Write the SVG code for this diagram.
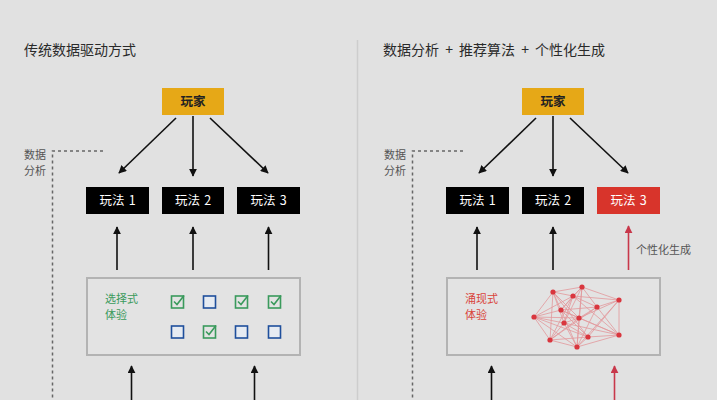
<svg xmlns="http://www.w3.org/2000/svg" width="717" height="400" viewBox="0 0 717 400">
<defs>
<style>
.t{font-family:"Noto Sans CJK SC","Noto Sans",sans-serif}
.title{font-size:14px;fill:#2a2a2a}
.side{font-size:11px;fill:#555}
.nb{fill:#000}
.nt{font-size:12.5px;fill:#fff;text-anchor:middle;word-spacing:1.5px}
.ln{stroke:#111;stroke-width:1.6;fill:none}
.rl{stroke:#c8374a;stroke-width:1.6;fill:none}
.dot{stroke:#666;stroke-width:1.5;stroke-dasharray:3 3;fill:none}
.panel{fill:#e3e3e3;stroke:#b3b3b3;stroke-width:2}
.cg{fill:none;stroke:#3a9a5c;stroke-width:1.6}
.cb{fill:#e6ebf2;stroke:#1f4f9c;stroke-width:1.6}
.edge{stroke:#e27f84;stroke-width:0.8;opacity:0.75}
.nd{fill:#d9363e}
</style>
<marker id="ah" viewBox="0 0 10 10" refX="9" refY="5" markerWidth="5" markerHeight="5" orient="auto"><path d="M0,0 L10,5 L0,10 z" fill="#111"/></marker>
<marker id="ar" viewBox="0 0 10 10" refX="9" refY="5" markerWidth="5" markerHeight="5" orient="auto"><path d="M0,0 L10,5 L0,10 z" fill="#c8374a"/></marker>
<g id="chk"><rect x="-6" y="-6" width="12" height="12" class="cg"/><polyline points="-3.5,-0.5 -0.5,2.5 6.5,-6.5" class="cg"/></g>
<rect id="unc" x="-6" y="-6" width="12" height="12" class="cb"/>
</defs>
<rect width="717" height="400" fill="#e1e1e1"/>
<line x1="357.5" y1="40" x2="357.5" y2="400" stroke="#cdcdcd" stroke-width="1.5"/>

<g id="titles">
<text class="t title" x="24" y="55">传统数据驱动方式</text>
<text class="t title" x="383" y="55" word-spacing="3">数据分析 + 推荐算法 + 个性化生成</text>
</g>

<g id="connectors">
<line class="ln" x1="176" y1="118" x2="119" y2="173" marker-end="url(#ah)"/>
<line class="ln" x1="193" y1="116" x2="193" y2="176" marker-end="url(#ah)"/>
<line class="ln" x1="210" y1="118" x2="268" y2="173" marker-end="url(#ah)"/>
<line class="ln" x1="117" y1="270" x2="117" y2="227" marker-end="url(#ah)"/>
<line class="ln" x1="193" y1="270" x2="193" y2="227" marker-end="url(#ah)"/>
<line class="ln" x1="268.5" y1="270" x2="268.5" y2="227" marker-end="url(#ah)"/>
<line class="ln" x1="131.5" y1="400" x2="131.5" y2="366" marker-end="url(#ah)"/>
<line class="ln" x1="254.5" y1="400" x2="254.5" y2="366" marker-end="url(#ah)"/>
<polyline class="dot" points="103,151 52.5,151 52.5,400"/>

<line class="ln" x1="536" y1="118" x2="479" y2="173" marker-end="url(#ah)"/>
<line class="ln" x1="553" y1="116" x2="553" y2="176" marker-end="url(#ah)"/>
<line class="ln" x1="570" y1="118" x2="628" y2="173" marker-end="url(#ah)"/>
<line class="ln" x1="477" y1="270" x2="477" y2="227" marker-end="url(#ah)"/>
<line class="ln" x1="553" y1="270" x2="553" y2="227" marker-end="url(#ah)"/>
<line class="rl" x1="628.5" y1="270" x2="628.5" y2="226" marker-end="url(#ar)"/>
<line class="ln" x1="491.5" y1="400" x2="491.5" y2="366" marker-end="url(#ah)"/>
<line class="rl" x1="614.5" y1="400" x2="614.5" y2="366" marker-end="url(#ar)"/>
<polyline class="dot" points="463,151 412.5,151 412.5,400"/>
</g>

<g id="side-labels">
<text class="t side" x="24" y="159">数据</text>
<text class="t side" x="24" y="175">分析</text>
<text class="t side" x="384" y="159">数据</text>
<text class="t side" x="384" y="175">分析</text>
<text class="t side" x="636" y="254" fill="#444">个性化生成</text>
</g>

<g id="player-left"><rect x="162" y="88" width="62" height="27" fill="#e6a817"/><text class="t" x="193" y="106" font-size="12.5" font-weight="600" fill="#222" text-anchor="middle">玩家</text></g>
<g id="player-right"><rect x="522" y="88" width="62" height="27" fill="#e6a817"/><text class="t" x="553" y="106" font-size="12.5" font-weight="600" fill="#222" text-anchor="middle">玩家</text></g>

<g id="play1-left"><rect class="nb" x="86" y="187" width="63" height="27"/><text class="t nt" x="117.5" y="205">玩法 1</text></g>
<g id="play2-left"><rect class="nb" x="162" y="187" width="62" height="27"/><text class="t nt" x="193" y="205">玩法 2</text></g>
<g id="play3-left"><rect class="nb" x="237" y="187" width="63" height="27"/><text class="t nt" x="268.5" y="205">玩法 3</text></g>
<g id="play1-right"><rect class="nb" x="446" y="187" width="63" height="27"/><text class="t nt" x="477.5" y="205">玩法 1</text></g>
<g id="play2-right"><rect class="nb" x="522" y="187" width="62" height="27"/><text class="t nt" x="553" y="205">玩法 2</text></g>
<g id="play3-right"><rect x="597" y="187" width="63" height="27" fill="#d8342b"/><text class="t nt" x="628.5" y="205">玩法 3</text></g>

<g id="choice-panel">
<rect class="panel" x="87" y="278" width="213" height="77"/>
<text class="t" x="105" y="303" font-size="11" fill="#3a9a5c">选择式</text>
<text class="t" x="105" y="319" font-size="11" fill="#3a9a5c">体验</text>
<use href="#chk" x="177.5" y="302"/>
<use href="#unc" x="209.5" y="302"/>
<use href="#chk" x="241.5" y="302"/>
<use href="#chk" x="274.5" y="302"/>
<use href="#unc" x="177.5" y="332"/>
<use href="#chk" x="209.5" y="332"/>
<use href="#unc" x="241.5" y="332"/>
<use href="#unc" x="274.5" y="332"/>
</g>

<g id="emergent-panel">
<rect class="panel" x="447" y="278" width="213" height="77"/>
<text class="t" x="465" y="303" font-size="11" fill="#d9443b">涌现式</text>
<text class="t" x="465" y="319" font-size="11" fill="#d9443b">体验</text>
<g class="edge">
<line x1="553" y1="292" x2="582" y2="287"/><line x1="553" y1="292" x2="573" y2="296"/><line x1="553" y1="292" x2="561" y2="310"/><line x1="553" y1="292" x2="534" y2="317"/>
<line x1="553" y1="292" x2="564" y2="323"/><line x1="553" y1="292" x2="579" y2="318"/><line x1="553" y1="292" x2="588" y2="337"/><line x1="553" y1="292" x2="550" y2="340"/>
<line x1="582" y1="287" x2="573" y2="296"/><line x1="582" y1="287" x2="619" y2="300"/><line x1="582" y1="287" x2="597" y2="307"/><line x1="582" y1="287" x2="561" y2="310"/>
<line x1="582" y1="287" x2="579" y2="318"/><line x1="582" y1="287" x2="577" y2="347"/><line x1="582" y1="287" x2="564" y2="323"/>
<line x1="573" y1="296" x2="619" y2="300"/><line x1="573" y1="296" x2="597" y2="307"/><line x1="573" y1="296" x2="561" y2="310"/><line x1="573" y1="296" x2="534" y2="317"/>
<line x1="573" y1="296" x2="564" y2="323"/><line x1="573" y1="296" x2="619" y2="335"/><line x1="573" y1="296" x2="550" y2="340"/>
<line x1="619" y1="300" x2="597" y2="307"/><line x1="619" y1="300" x2="579" y2="318"/><line x1="619" y1="300" x2="619" y2="335"/><line x1="619" y1="300" x2="588" y2="337"/><line x1="619" y1="300" x2="577" y2="347"/>
<line x1="597" y1="307" x2="561" y2="310"/><line x1="597" y1="307" x2="579" y2="318"/><line x1="597" y1="307" x2="619" y2="335"/><line x1="597" y1="307" x2="577" y2="347"/><line x1="597" y1="307" x2="550" y2="340"/>
<line x1="561" y1="310" x2="534" y2="317"/><line x1="561" y1="310" x2="579" y2="318"/><line x1="561" y1="310" x2="619" y2="335"/><line x1="561" y1="310" x2="588" y2="337"/><line x1="561" y1="310" x2="577" y2="347"/>
<line x1="534" y1="317" x2="579" y2="318"/><line x1="534" y1="317" x2="564" y2="323"/><line x1="534" y1="317" x2="550" y2="340"/><line x1="534" y1="317" x2="577" y2="347"/><line x1="534" y1="317" x2="588" y2="337"/>
<line x1="579" y1="318" x2="564" y2="323"/><line x1="579" y1="318" x2="619" y2="335"/><line x1="579" y1="318" x2="550" y2="340"/><line x1="579" y1="318" x2="577" y2="347"/>
<line x1="564" y1="323" x2="588" y2="337"/><line x1="564" y1="323" x2="550" y2="340"/><line x1="564" y1="323" x2="577" y2="347"/><line x1="564" y1="323" x2="619" y2="335"/>
<line x1="619" y1="335" x2="588" y2="337"/><line x1="619" y1="335" x2="577" y2="347"/><line x1="588" y1="337" x2="550" y2="340"/><line x1="588" y1="337" x2="577" y2="347"/><line x1="550" y1="340" x2="577" y2="347"/>
</g>
<g class="nd">
<circle cx="553" cy="292" r="2.6"/><circle cx="582" cy="287" r="2.6"/><circle cx="573" cy="296" r="2.6"/><circle cx="619" cy="300" r="2.6"/>
<circle cx="597" cy="307" r="2.6"/><circle cx="561" cy="310" r="2.6"/><circle cx="534" cy="317" r="2.6"/><circle cx="579" cy="318" r="2.6"/>
<circle cx="564" cy="323" r="2.6"/><circle cx="619" cy="335" r="2.6"/><circle cx="588" cy="337" r="2.6"/><circle cx="550" cy="340" r="2.6"/><circle cx="577" cy="347" r="2.6"/>
</g>
</g>
</svg>
